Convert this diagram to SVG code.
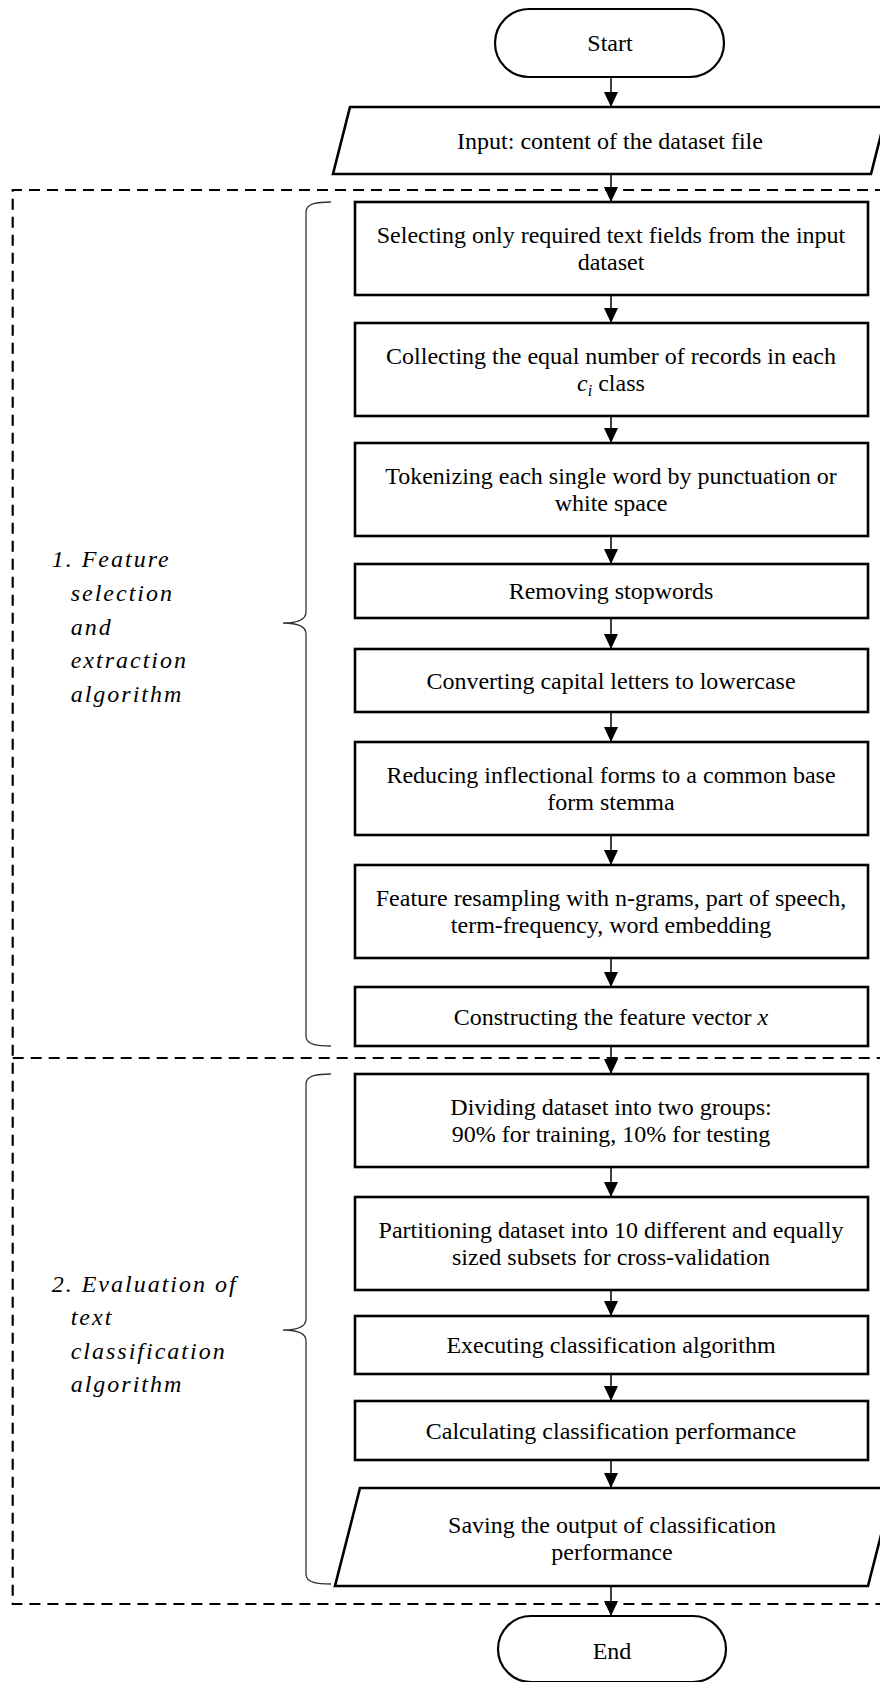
<svg xmlns="http://www.w3.org/2000/svg" width="880" height="1682" viewBox="0 0 880 1682">
  <style>
    .box { fill: #fff; stroke: #000; stroke-width: 2.6; }
    .term { fill: #fff; stroke: #000; stroke-width: 2.2; }
    .t { font-family: "Liberation Serif", "Times New Roman", serif; font-size: 24px; text-anchor: middle; fill: #000; }
    .lbl { font-family: "Liberation Serif", "Times New Roman", serif; font-size: 24px; font-style: italic; letter-spacing: 2px; fill: #000; }
    .math { font-style: italic; }
    .dash { fill: none; stroke: #000; stroke-width: 2.2; stroke-dasharray: 11 7; }
    .brace { fill: none; stroke: #333; stroke-width: 1.3; }
    .edge { fill: none; stroke: #000; stroke-width: 1.5; marker-end: url(#arrow); }
  </style>
  <defs>
    <marker id="arrow" markerUnits="userSpaceOnUse" markerWidth="15" markerHeight="14" refX="15" refY="7" orient="auto">
      <path d="M0,0 L15,7 L0,14 z" fill="#000"/>
    </marker>
  </defs>
  <rect width="880" height="1682" fill="#fff"/>

  <!-- phase frames (dashed) -->
  <g id="frames">
    <path class="dash" d="M886,190 H12.7 V1604 H886"/>
    <path class="dash" d="M12.7,1058 H886"/>
  </g>

  <!-- phase braces and labels -->
  <g id="phase1">
    <path class="brace" d="M331,202 C318,202 306,203 306,212 L306,612 C306,620 296,623 283,623 C296,623 306,626 306,634 L306,1036 C306,1045 318,1046 331,1046"/>
    <text class="lbl" x="51.7" y="567">1. Feature</text>
    <text class="lbl" x="70.7" y="601">selection</text>
    <text class="lbl" x="70.7" y="635">and</text>
    <text class="lbl" x="70.7" y="668">extraction</text>
    <text class="lbl" x="70.7" y="702">algorithm</text>
  </g>
  <g id="phase2">
    <path class="brace" d="M331,1074 C318,1074 306,1075 306,1084 L306,1319 C306,1327 296,1330 283,1330 C296,1330 306,1333 306,1341 L306,1574 C306,1583 318,1584 331,1584"/>
    <text class="lbl" x="51.7" y="1292">2. Evaluation of</text>
    <text class="lbl" x="70.7" y="1325">text</text>
    <text class="lbl" x="70.7" y="1359">classification</text>
    <text class="lbl" x="70.7" y="1392">algorithm</text>
  </g>

  <!-- connectors -->
  <g id="connectors">
    <path class="edge" d="M611,77 V107"/>
    <path class="edge" d="M611,174 V202"/>
    <path class="edge" d="M611,295 V323"/>
    <path class="edge" d="M611,416 V443"/>
    <path class="edge" d="M611,536 V564"/>
    <path class="edge" d="M611,618 V649"/>
    <path class="edge" d="M611,712 V742"/>
    <path class="edge" d="M611,835 V865"/>
    <path class="edge" d="M611,958 V987"/>
    <path class="edge" d="M611,1046 V1074"/>
    <path class="edge" d="M611,1167 V1197"/>
    <path class="edge" d="M611,1290 V1316"/>
    <path class="edge" d="M611,1374 V1401"/>
    <path class="edge" d="M611,1460 V1488"/>
    <path class="edge" d="M611,1586 V1616"/>
  </g>

  <!-- nodes -->
  <g id="start">
    <rect class="term" x="495" y="9" width="229" height="68" rx="34"/>
    <text class="t" x="610" y="51">Start</text>
  </g>
  <g id="input">
    <path class="box" d="M350,107 L888,107 L871,174 L333,174 z"/>
    <text class="t" x="610" y="149">Input: content of the dataset file</text>
  </g>
  <g id="select-fields">
    <rect class="box" x="355" y="202" width="513" height="93"/>
    <text class="t" x="611" y="243">Selecting only required text fields from the input</text>
    <text class="t" x="611" y="270">dataset</text>
  </g>
  <g id="balance-classes">
    <rect class="box" x="355" y="323" width="513" height="93"/>
    <text class="t" x="611" y="364">Collecting the equal number of records in each</text>
    <text class="t" x="611" y="391"><tspan class="math">c</tspan><tspan class="math" font-size="16" dy="5">i</tspan><tspan dy="-5"> class</tspan></text>
  </g>
  <g id="tokenize">
    <rect class="box" x="355" y="443" width="513" height="93"/>
    <text class="t" x="611" y="484">Tokenizing each single word by punctuation or</text>
    <text class="t" x="611" y="511">white space</text>
  </g>
  <g id="stopwords">
    <rect class="box" x="355" y="564" width="513" height="54"/>
    <text class="t" x="611" y="599">Removing stopwords</text>
  </g>
  <g id="lowercase">
    <rect class="box" x="355" y="649" width="513" height="63"/>
    <text class="t" x="611" y="689">Converting capital letters to lowercase</text>
  </g>
  <g id="stemming">
    <rect class="box" x="355" y="742" width="513" height="93"/>
    <text class="t" x="611" y="783">Reducing inflectional forms to a common base</text>
    <text class="t" x="611" y="810">form stemma</text>
  </g>
  <g id="resampling">
    <rect class="box" x="355" y="865" width="513" height="93"/>
    <text class="t" x="611" y="906">Feature resampling with n-grams, part of speech,</text>
    <text class="t" x="611" y="933">term-frequency, word embedding</text>
  </g>
  <g id="feature-vector">
    <rect class="box" x="355" y="987" width="513" height="59"/>
    <text class="t" x="611" y="1025">Constructing the feature vector <tspan class="math">x</tspan></text>
  </g>
  <g id="split">
    <rect class="box" x="355" y="1074" width="513" height="93"/>
    <text class="t" x="611" y="1115">Dividing dataset into two groups:</text>
    <text class="t" x="611" y="1142">90% for training, 10% for testing</text>
  </g>
  <g id="cross-validation">
    <rect class="box" x="355" y="1197" width="513" height="93"/>
    <text class="t" x="611" y="1238">Partitioning dataset into 10 different and equally</text>
    <text class="t" x="611" y="1265">sized subsets for cross-validation</text>
  </g>
  <g id="classify">
    <rect class="box" x="355" y="1316" width="513" height="58"/>
    <text class="t" x="611" y="1353">Executing classification algorithm</text>
  </g>
  <g id="performance">
    <rect class="box" x="355" y="1401" width="513" height="59"/>
    <text class="t" x="611" y="1439">Calculating classification performance</text>
  </g>
  <g id="save-output">
    <path class="box" d="M360,1488 L893,1488 L868,1586 L335,1586 z"/>
    <text class="t" x="612" y="1533">Saving the output of classification</text>
    <text class="t" x="612" y="1560">performance</text>
  </g>
  <g id="end">
    <rect class="term" x="498" y="1616" width="228" height="66" rx="33"/>
    <text class="t" x="612" y="1659">End</text>
  </g>
</svg>
